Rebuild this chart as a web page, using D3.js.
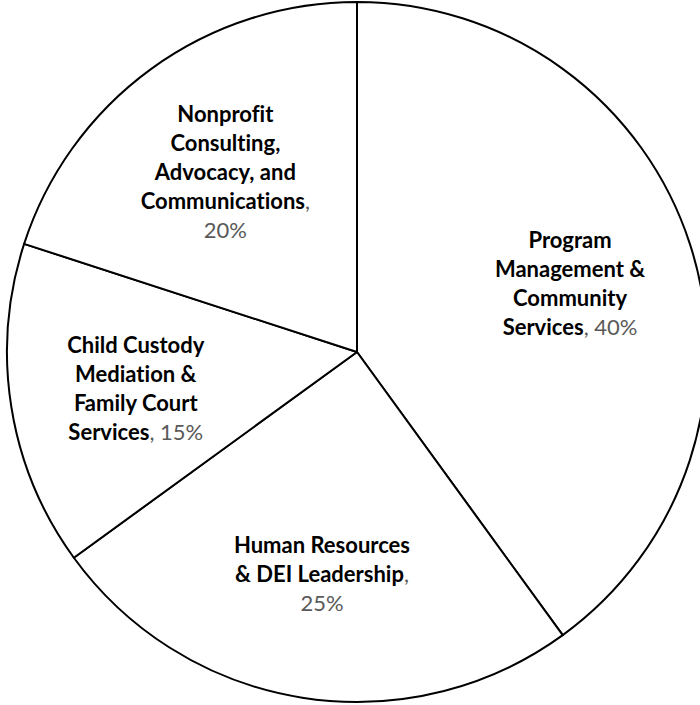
<!DOCTYPE html>
<html>
<head>
<meta charset="utf-8">
<script src="https://cdn.jsdelivr.net/npm/d3@7"></script>
<style>
  html, body { margin: 0; padding: 0; background: #fff; }
  svg { display: block; }
  text { font-variant-ligatures: none; font-feature-settings: "liga" 0, "clig" 0; }
</style>
</head>
<body>
<div id="chart"></div>
<script>
// data
var categories = [
  "Program Management & Community Services",
  "Human Resources & DEI Leadership",
  "Child Custody Mediation & Family Court Services",
  "Nonprofit Consulting, Advocacy, and Communications"
];
// how each label wraps in the picture
var labelLines = [
  ["Program", "Management &", "Community", "Services"],
  ["Human Resources", "& DEI Leadership"],
  ["Child Custody", "Mediation &", "Family Court", "Services"],
  ["Nonprofit", "Consulting,", "Advocacy, and", "Communications"]
];
// does the percentage go on the last line (true) or on its own line (false)
var pctSameLine = [true, false, true, false];
var values = [40, 25, 15, 20];

var width = 700;
var height = 705;
var cx = 357;
var cy = 352;
var radius = 350;
var labelRadius = radius * 0.64;
var lineHeight = 29;

var svg = d3.select("#chart").append("svg")
  .attr("width", width)
  .attr("height", height);

var g = svg.append("g").attr("transform", "translate(" + cx + "," + cy + ")");

var pie = d3.pie().sort(null).value(function (d) { return d; });
var arcs = pie(values);

var arc = d3.arc().innerRadius(0).outerRadius(radius);
var labelArc = d3.arc().innerRadius(labelRadius).outerRadius(labelRadius);

// slices
g.selectAll("path.slice")
  .data(arcs)
  .enter().append("path")
  .attr("class", "slice")
  .attr("d", arc)
  .attr("fill", "#fff")
  .attr("stroke", "#000")
  .attr("stroke-width", 2)
  .attr("stroke-linejoin", "round");

// labels
arcs.forEach(function (a, i) {
  var c = labelArc.centroid(a);
  var lines = labelLines[i].slice();
  var nLines = lines.length + (pctSameLine[i] ? 0 : 1);
  var y0 = c[1] - (nLines - 1) * lineHeight / 2;

  var text = g.append("text")
    .attr("text-anchor", "middle")
    .attr("font-family", "Lato, 'Open Sans', sans-serif")
    .attr("font-size", 22)
    .attr("dominant-baseline", "central");

  lines.forEach(function (ln, j) {
    var t = text.append("tspan")
      .attr("x", c[0])
      .attr("y", y0 + j * lineHeight);
    t.append("tspan").attr("font-weight", "bold").attr("fill", "#000").text(ln);
    if (j === lines.length - 1) {
      if (pctSameLine[i]) {
        t.append("tspan").attr("fill", "#595959").text(", " + values[i] + "%");
      } else {
        t.append("tspan").attr("fill", "#595959").text(",");
      }
    }
  });
  if (!pctSameLine[i]) {
    text.append("tspan")
      .attr("x", c[0])
      .attr("y", y0 + lines.length * lineHeight)
      .attr("fill", "#595959")
      .text(values[i] + "%");
  }
});
</script>
</body>
</html>
